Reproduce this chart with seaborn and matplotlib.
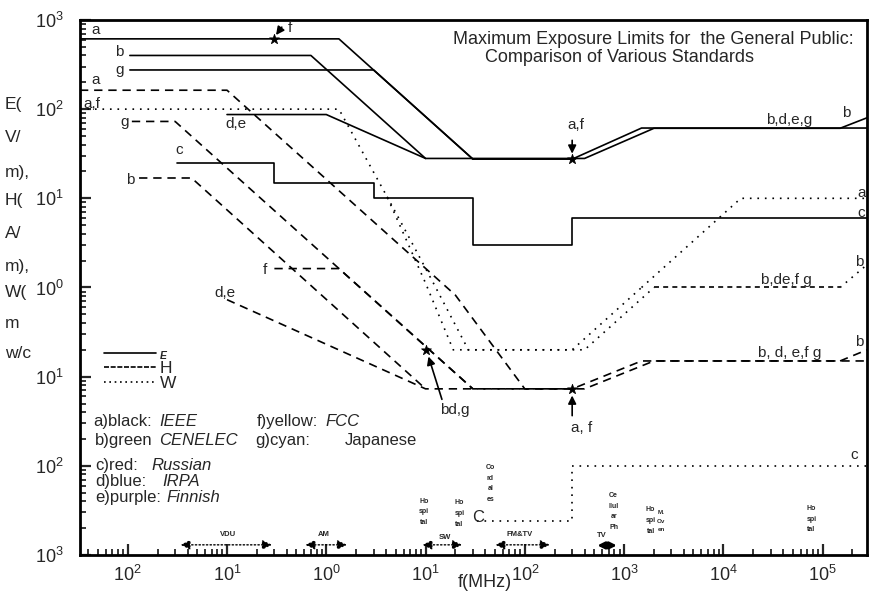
import numpy as np
import pandas as pd
import matplotlib
matplotlib.use("Agg")
import matplotlib.pyplot as plt
import seaborn as sns
from matplotlib.lines import Line2D
from matplotlib.ticker import LogLocator, NullFormatter

# ---- data (f in MHz) ----
# E field, V/m (solid)
E_a_f = [0.0033, 1.34, 30, 300, 1500, 2.8e5]
E_a_v = [614, 614, 27.5, 27.5, 61.4, 61.4]
E_b_f = [0.0105, 0.7, 10, 400, 2000, 1.5e5, 2.8e5]
E_b_v = [400, 400, 28, 28, 61, 61, 80]
E_g_f = [0.0105, 3, 30]
E_g_v = [275, 275, 27.5]
E_de_f = [0.1, 1, 10]
E_de_v = [87, 87, 28]
E_c_f = [0.031, 0.3, 0.3, 3, 3, 30, 30, 300, 300, 2.8e5]
E_c_v = [25, 25, 15, 15, 10, 10, 3, 3, 6, 6]

# H field, A/m (dashed)
H_a_f = [0.0033, 0.1, 20, 100, 300, 1500, 2.8e5]
H_a_v = [163, 163, 0.82, 0.0729, 0.0729, 0.15, 0.15]
H_g_f = [0.011, 0.03, 30]
H_g_v = [72.8, 72.8, 0.073]
H_b_f = [0.013, 0.044, 10]
H_b_v = [16.9, 16.9, 0.073]
H_f_f = [0.3, 1.34, 30, 300]
H_f_v = [1.63, 1.63, 0.073, 0.073]
H_de_f = [0.1, 10, 400, 2000, 1.5e5]
H_de_v = [0.73, 0.073, 0.073, 0.15, 0.15]
H_bhi_f = [1.5e5, 2.8e5]
H_bhi_v = [0.15, 0.2]

# power density W (dotted)
W_af_f = [0.0033, 1.34, 4.1, 10, 19, 300, 1500]
W_af_v = [100, 100, 10.4, 1.12, 0.2, 0.2, 1.0]
W_a_f = [1500, 15000, 2.8e5]
W_a_v = [1.0, 10, 10]
W_g_f = [4.1, 5.7, 12, 27, 400, 2000]
W_g_v = [10.4, 5.3, 1.12, 0.2, 0.2, 1.0]
W_c_f = [33, 300, 300, 2.8e5]
W_c_v = [0.0024, 0.0024, 0.01, 0.01]
W_bhi_f = [1.5e5, 2.8e5]
W_bhi_v = [1.0, 1.8]
W_flat_f = [2000, 1.5e5]
W_flat_v = [1.0, 1.0]

# starred points
star_f = [0.3, 300, 300, 10]
star_v = [614, 27.5, 0.0729, 0.2]

x_ticks = [1e-2, 1e-1, 1e0, 1e1, 1e2, 1e3, 1e4, 1e5]
x_tick_labels = ["$10^{2}$", "$10^{1}$", "$10^{0}$", "$10^{1}$", "$10^{2}$",
                 "$10^{3}$", "$10^{4}$", "$10^{5}$"]
y_ticks = [1e-3, 1e-2, 1e-1, 1e0, 1e1, 1e2, 1e3]
y_tick_labels = ["$10^{3}$", "$10^{2}$", "$10^{1}$", "$10^{0}$", "$10^{1}$",
                 "$10^{2}$", "$10^{3}$"]

curves = [
    ("E_a", "E", E_a_f, E_a_v), ("E_b", "E", E_b_f, E_b_v),
    ("E_g", "E", E_g_f, E_g_v), ("E_de", "E", E_de_f, E_de_v),
    ("E_c", "E", E_c_f, E_c_v),
    ("H_a", "H", H_a_f, H_a_v), ("H_g", "H", H_g_f, H_g_v),
    ("H_b", "H", H_b_f, H_b_v), ("H_f", "H", H_f_f, H_f_v),
    ("H_de", "H", H_de_f, H_de_v), ("H_bhi", "H", H_bhi_f, H_bhi_v),
    ("W_af", "W", W_af_f, W_af_v), ("W_a", "W", W_a_f, W_a_v),
    ("W_g", "W", W_g_f, W_g_v), ("W_c", "W", W_c_f, W_c_v),
    ("W_bhi", "W", W_bhi_f, W_bhi_v), ("W_flat", "W2", W_flat_f, W_flat_v),
]

df = pd.concat([pd.DataFrame({"f": f, "v": v, "curve": name, "kind": kind})
                for name, kind, f, v in curves], ignore_index=True)

sns.set_style("white")
plt.rcParams["font.family"] = ["Liberation Sans", "DejaVu Sans"]
plt.rcParams["mathtext.fontset"] = "custom"
plt.rcParams["mathtext.rm"] = "Liberation Sans"
plt.rcParams["mathtext.it"] = "Liberation Sans:italic"

fig = plt.figure(figsize=(8.71, 5.98), dpi=100)
ax = fig.add_axes([0.0918, 0.0719, 0.9036, 0.8947])
ax.set_xscale("log")
ax.set_yscale("log")

dash_map = {"E": "", "H": (5, 3.5), "W": (1, 3.5), "W2": (3, 2.5)}
sns.lineplot(data=df, x="f", y="v", units="curve", style="kind",
             estimator=None, sort=False, dashes=dash_map, color="black",
             linewidth=1.2, legend=False, ax=ax)
sns.scatterplot(x=star_f, y=star_v, marker="*", s=55, color="black",
                edgecolor="black", legend=False, ax=ax, zorder=5)

ax.set_xlim(0.0033, 2.8e5)
ax.set_ylim(1e-3, 1e3)
ax.set_xticks(x_ticks, labels=x_tick_labels)
ax.set_yticks(y_ticks, labels=y_tick_labels)
for axis in (ax.xaxis, ax.yaxis):
    axis.set_minor_locator(LogLocator(base=10, subs=np.arange(2, 10), numticks=30))
    axis.set_minor_formatter(NullFormatter())
ax.tick_params(which="both", bottom=True, left=True, top=False, right=False)
ax.tick_params(which="major", direction="in", length=8, width=1.6, labelsize=13)
ax.tick_params(which="minor", direction="in", length=4, width=1.3)
ax.tick_params(axis="y", pad=12)
ax.tick_params(axis="x", pad=7)
ax.grid(False)
for s in ax.spines.values():
    s.set_linewidth(2)
    s.set_color("black")
ax.set_xlabel("f(MHz)", fontsize=13)
ax.xaxis.set_label_coords(0.515, -0.035)
ax.set_ylabel("")

# stacked y label
for txt, ypx in [("E(", 105), ("V/", 137), ("m),", 173), ("H(", 200), ("A/", 233),
                 ("m),", 267), ("W(", 293), ("m", 323), ("w/c", 353)]:
    fig.text(5 / 871, 1 - ypx / 598, txt, fontsize=12.5, ha="left", va="center")

# title
ax.text(0.474, 0.963, "Maximum Exposure Limits for  the General Public:",
        transform=ax.transAxes, fontsize=13, ha="left", va="center")
ax.text(0.515, 0.929, "Comparison of Various Standards",
        transform=ax.transAxes, fontsize=13, ha="left", va="center")

# curve labels
labels = [("a", 0.0048, 773), ("b", 0.0083, 437), ("g", 0.0083, 275),
          ("a", 0.0048, 212), ("a,f", 0.0044, 114), ("g", 0.0093, 72),
          ("d,e", 0.123, 68), ("c", 0.033, 35), ("b", 0.0105, 16),
          ("f", 0.24, 1.57), ("d,e", 0.095, 0.87), ("a,f", 330, 66),
          ("b,d,e,g", 46500, 76), ("b", 1.74e5, 91), ("a", 2.46e5, 11.5),
          ("c", 2.46e5, 6.9), ("b", 2.35e5, 1.94), ("b,de,f g", 43600, 1.22),
          ("b", 2.35e5, 0.245), ("b, d, e,f g", 46500, 0.185),
          ("a, f", 372, 0.0267), ("bd,g", 19.6, 0.0425), ("c", 2.1e5, 0.0133),
          ("f", 0.43, 815)]
for txt, x, y in labels:
    ax.text(x, y, txt, fontsize=11, ha="center", va="center")
ax.text(33.5, 0.0026, "C", fontsize=12, ha="center", va="center")

arrow = dict(arrowstyle="-|>", color="black", lw=1.2, mutation_scale=12)
ax.annotate("", xy=(0.3, 640), xytext=(0.37, 880), arrowprops=arrow)
ax.annotate("", xy=(300, 29.5), xytext=(300, 48), arrowprops=arrow)
ax.annotate("", xy=(300, 0.066), xytext=(300, 0.034), arrowprops=arrow)
ax.annotate("", xy=(10.5, 0.18), xytext=(14.9, 0.052), arrowprops=arrow)

# E / H / W line key
handles = [Line2D([], [], color="k", lw=1.2),
           Line2D([], [], color="k", lw=1.2, dashes=(3, 1)),
           Line2D([], [], color="k", lw=1.2, dashes=(1, 2.2))]
leg = ax.legend(handles, ["E", "H", "W"], loc="upper left",
                bbox_to_anchor=(0.02, 0.405), frameon=False, handlelength=3.0,
                handletextpad=0.2, labelspacing=0.0, borderpad=0, fontsize=12.5)
leg.get_texts()[0].set_fontstyle("italic")
leg.get_texts()[0].set_fontweight("bold")
leg.get_texts()[0].set_fontsize(7.5)

# standards key
key_rows = [("a)black:", "IEEE", 0.0165, 0.101, 0.250, True),
            ("b)green", "CENELEC", 0.019, 0.101, 0.214, True),
            ("c)red:", "Russian", 0.019, 0.0915, 0.168, True),
            ("d)blue:", "IRPA", 0.019, 0.105, 0.138, True),
            ("e)purple:", "Finnish", 0.019, 0.110, 0.108, True),
            ("f)yellow:", "FCC", 0.225, 0.312, 0.250, True),
            ("g)cyan:", "Japanese", 0.223, 0.336, 0.214, False)]
for plain, name, xp, xn, yk, ital in key_rows:
    ax.text(xp, yk, plain, transform=ax.transAxes, fontsize=12, va="center")
    ax.text(xn, yk, name, transform=ax.transAxes, fontsize=12, va="center",
            fontstyle="italic" if ital else "normal")

# frequency band markers along the bottom
bands = [("VDU", 0.0319, 0.302, 0.1016), ("AM", 0.578, 1.72, 0.94),
         ("SW", 8.73, 24.8, 15.6), ("FM&TV", 47.4, 190, 88.7)]
band_y = 0.0013
for name, lo, hi, mid in bands:
    ax.annotate("", xy=(lo, band_y), xytext=(hi, band_y),
                arrowprops=dict(arrowstyle="<|-|>", color="black", lw=1,
                                ls=":", mutation_scale=14))
    ax.text(mid, 0.00172 if name != "SW" else 0.00156, name, fontsize=5.5,
            fontweight="bold", ha="center", va="center")
ax.annotate("", xy=(505, 0.00128), xytext=(901, 0.00128),
            arrowprops=dict(arrowstyle="<|-|>", color="black", lw=2,
                            mutation_scale=10))
ax.text(594, 0.00165, "TV", fontsize=5.5, fontweight="bold", ha="center", va="center")

stacks = [("Ho\nspi\ntal", 9.6, 0.0044), ("Ho\nspi\ntal", 22, 0.0042),
          ("Co\nrd\nal\nes", 45, 0.0105), ("Ce\nllul\nar\nPh", 785, 0.0051),
          ("Ho\nspi\ntal", 1850, 0.0035), ("Ho\nspi\ntal", 77300, 0.00365)]
for txt, x, y in stacks:
    ax.text(x, y, txt, fontsize=5, fontweight="bold", ha="center", va="top",
            linespacing=1.75)
ax.text(2350, 0.0032, "M.\nOv\nen", fontsize=4.5, fontweight="bold",
        ha="center", va="top", linespacing=1.9)

fig.savefig("out.png", dpi=100)
